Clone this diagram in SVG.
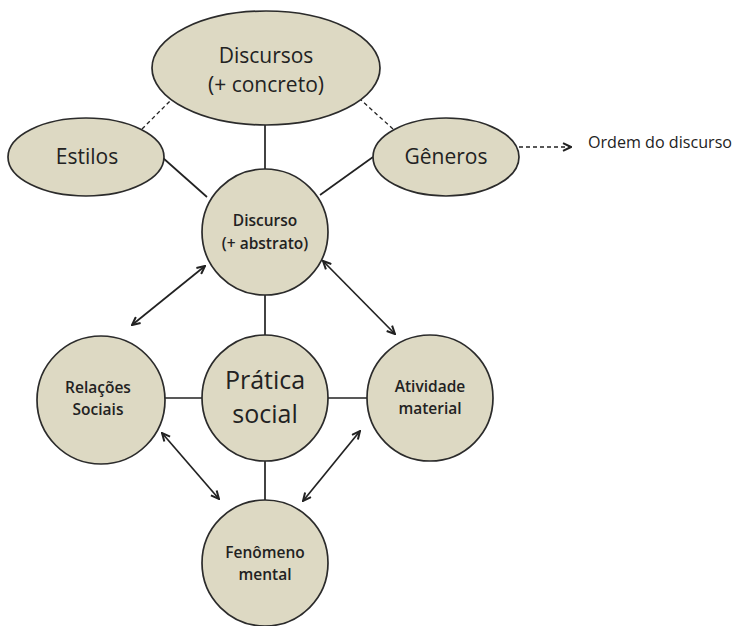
<svg xmlns="http://www.w3.org/2000/svg" width="734" height="626" viewBox="0 0 734 626">
  <style>
    .node { fill: #ddd9c3; stroke: #2b2b2b; stroke-width: 1.7; }
    .lbl { font-family: "Open Sans", "Liberation Sans", sans-serif; fill: #222; text-anchor: middle; }
    .small { font-size: 15.5px; font-weight: 600; }
    .line { stroke: #222; stroke-width: 1.7; fill: none; }
    .dash { stroke: #222; stroke-width: 1.3; fill: none; stroke-dasharray: 4 3; }
    .arrow { stroke: #222; stroke-width: 1.7; fill: none; marker-start: url(#head); marker-end: url(#head); }
  </style>
  <defs>
    <marker id="head" viewBox="0 0 10 10" refX="9" refY="5" markerWidth="10" markerHeight="10" markerUnits="userSpaceOnUse" orient="auto-start-reverse">
      <path d="M1,1.2 L9,5 L1,8.8" fill="none" stroke="#222" stroke-width="2"/>
    </marker>
  </defs>

  <!-- connectors -->
  <g id="connectors">
    <line class="line" x1="265" y1="125" x2="265" y2="169"/>
    <line class="dash" x1="142" y1="129" x2="171" y2="100"/>
    <line class="dash" x1="393" y1="129" x2="361" y2="100"/>
    <line class="line" x1="163" y1="158" x2="207" y2="197"/>
    <line class="line" x1="373" y1="157" x2="320" y2="195"/>
    <line class="dash" x1="519" y1="147" x2="571" y2="147" marker-end="url(#head)"/>
    <line class="line" x1="265" y1="295" x2="265" y2="336"/>
    <line class="line" x1="165" y1="398" x2="202" y2="398"/>
    <line class="line" x1="328" y1="398" x2="368" y2="398"/>
    <line class="line" x1="265" y1="461" x2="265" y2="501"/>
    <line class="arrow" x1="132" y1="325" x2="205" y2="266"/>
    <line class="arrow" x1="323" y1="261" x2="395" y2="334"/>
    <line class="arrow" x1="162" y1="433" x2="219" y2="499"/>
    <line class="arrow" x1="360" y1="431" x2="303" y2="501"/>
  </g>

  <g id="discursos">
    <ellipse class="node" cx="266" cy="68" rx="114" ry="57"/>
    <text class="lbl" x="266" y="63" font-size="21">Discursos</text>
    <text class="lbl" x="266" y="92" font-size="21">(+ concreto)</text>
  </g>

  <g id="estilos">
    <ellipse class="node" cx="86" cy="157" rx="78" ry="39"/>
    <text class="lbl" x="87" y="164" font-size="21">Estilos</text>
  </g>

  <g id="generos">
    <ellipse class="node" cx="446" cy="157" rx="73" ry="39"/>
    <text class="lbl" x="446" y="164" font-size="21">Gêneros</text>
  </g>

  <g id="ordem">
    <text x="588" y="148" font-family="Open Sans, Liberation Sans, sans-serif" font-size="16" fill="#222" textLength="144" lengthAdjust="spacingAndGlyphs">Ordem do discurso</text>
  </g>

  <g id="discurso">
    <circle class="node" cx="265" cy="232" r="63"/>
    <text class="lbl small" x="265" y="226" font-size="15">Discurso</text>
    <text class="lbl small" x="265" y="249" font-size="15">(+ abstrato)</text>
  </g>

  <g id="relacoes">
    <circle class="node" cx="101" cy="400" r="64"/>
    <text class="lbl small" x="98" y="393">Relações</text>
    <text class="lbl small" x="98" y="415">Sociais</text>
  </g>

  <g id="pratica">
    <circle class="node" cx="265" cy="398" r="63"/>
    <text class="lbl" x="265" y="389" font-size="25">Prática</text>
    <text class="lbl" x="265" y="423" font-size="25">social</text>
  </g>

  <g id="atividade">
    <circle class="node" cx="430" cy="398" r="63"/>
    <text class="lbl small" x="430" y="392">Atividade</text>
    <text class="lbl small" x="430" y="414">material</text>
  </g>

  <g id="fenomeno">
    <circle class="node" cx="265" cy="563" r="63"/>
    <text class="lbl small" x="265" y="558">Fenômeno</text>
    <text class="lbl small" x="265" y="580">mental</text>
  </g>
</svg>
